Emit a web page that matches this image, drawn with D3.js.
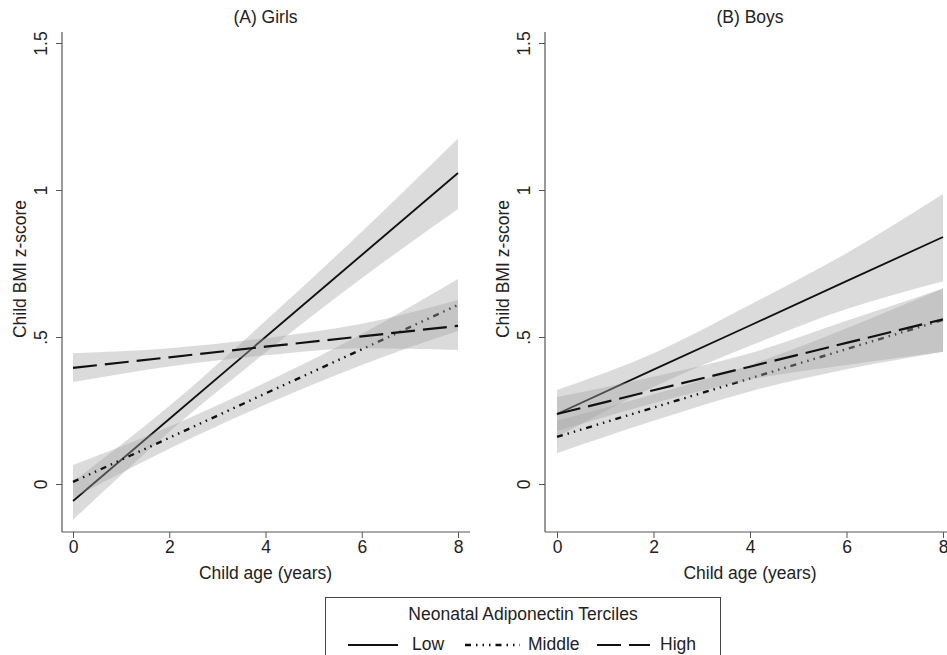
<!DOCTYPE html>
<html>
<head>
<meta charset="utf-8">
<script src="https://cdn.jsdelivr.net/npm/d3@7"></script>
<style>
  body { margin: 0; background: #fff; }
  svg text { font-family: "Liberation Sans", Arial, sans-serif; fill: #222; }
</style>
</head>
<body>
<script>
// ages at which the fitted lines and 95% CI bands are read
var ages = [0, 2, 4, 6, 8];
var seriesNames = ["Low", "Middle", "High"];
var yTicks = [0, 0.5, 1, 1.5];
var yTickLabels = ["0", ".5", "1", "1.5"];
var xTicks = [0, 2, 4, 6, 8];

// (A) Girls
var girlsLowFit   = [-0.058, 0.221, 0.500, 0.779, 1.058];
var girlsLowLo    = [-0.122, 0.178, 0.447, 0.700, 0.935];
var girlsLowHi    = [ 0.008, 0.265, 0.555, 0.858, 1.175];
var girlsMidFit   = [ 0.007, 0.157, 0.308, 0.458, 0.609];
var girlsMidLo    = [-0.048, 0.120, 0.270, 0.405, 0.520];
var girlsMidHi    = [ 0.065, 0.195, 0.345, 0.510, 0.697];
var girlsHighFit  = [ 0.395, 0.431, 0.467, 0.502, 0.538];
var girlsHighLo   = [ 0.347, 0.400, 0.438, 0.462, 0.456];
var girlsHighHi   = [ 0.445, 0.462, 0.496, 0.545, 0.626];

// (B) Boys
var boysLowFit    = [ 0.238, 0.389, 0.539, 0.690, 0.840];
var boysLowLo     = [ 0.160, 0.330, 0.470, 0.595, 0.690];
var boysLowHi     = [ 0.320, 0.445, 0.610, 0.785, 0.986];
var boysMidFit    = [ 0.160, 0.260, 0.359, 0.459, 0.558];
var boysMidLo     = [ 0.105, 0.215, 0.315, 0.390, 0.450];
var boysMidHi     = [ 0.215, 0.305, 0.405, 0.530, 0.665];
var boysHighFit   = [ 0.238, 0.319, 0.399, 0.480, 0.560];
var boysHighLo    = [ 0.180, 0.275, 0.355, 0.405, 0.450];
var boysHighHi    = [ 0.296, 0.365, 0.445, 0.555, 0.665];

var width = 947, height = 655;
var fontsize = "17.5px";

var dashes = { Low: null, Middle: "6,5,1.5,5,1.5,5,1.5,5", High: "24,8" };
var widths = { Low: 1.8, Middle: 2.4, High: 2.2 };

function build(fit, lo, hi) {
  return ages.map(function(a, i) { return { age: a, fit: fit[i], lo: lo[i], hi: hi[i] }; });
}

var panels = [
  { title: "(A) Girls", axisX: 62, axisEnd: 470, left: 73, right: 458,
    series: [build(girlsLowFit, girlsLowLo, girlsLowHi),
             build(girlsMidFit, girlsMidLo, girlsMidHi),
             build(girlsHighFit, girlsHighLo, girlsHighHi)] },
  { title: "(B) Boys", axisX: 545, axisEnd: 947, left: 557, right: 943,
    series: [build(boysLowFit, boysLowLo, boysLowHi),
             build(boysMidFit, boysMidLo, boysMidHi),
             build(boysHighFit, boysHighLo, boysHighHi)] }
];

var svg = d3.select("body").append("svg")
  .attr("width", width).attr("height", height);

var y = d3.scaleLinear().domain([0, 1.5]).range([484, 43]);
var axisTop = 32, axisBottom = 532;

panels.forEach(function(p) {
  var x = d3.scaleLinear().domain([0, 8]).range([p.left, p.right]);
  var g = svg.append("g");

  // bands and lines, Stata plot order
  p.series.forEach(function(data, k) {
    var name = seriesNames[k];
    var area = d3.area().curve(d3.curveMonotoneX)
      .x(function(d) { return x(d.age); })
      .y0(function(d) { return y(d.lo); })
      .y1(function(d) { return y(d.hi); });
    g.append("path").datum(data)
      .attr("d", area)
      .attr("fill", "#a6a6a6")
      .attr("fill-opacity", 0.4);

    var line = d3.line()
      .x(function(d) { return x(d.age); })
      .y(function(d) { return y(d.fit); });
    g.append("path").datum(data)
      .attr("d", line)
      .attr("fill", "none")
      .attr("stroke", "#111")
      .attr("stroke-width", widths[name])
      .attr("stroke-dasharray", dashes[name]);
  });

  // y axis
  var yAxis = d3.axisLeft(y).tickValues(yTicks).tickSize(6).tickSizeOuter(0)
    .tickFormat(function(d, i) { return yTickLabels[i]; });
  var ya = g.append("g").attr("transform", "translate(" + p.axisX + ",0)").call(yAxis);
  ya.select(".domain").remove();
  ya.selectAll("line").attr("stroke", "#555");
  ya.selectAll("text")
    .attr("x", 0).attr("y", 0).attr("dy", 0)
    .attr("transform", "translate(-15,0) rotate(-90)")
    .attr("text-anchor", "middle")
    .style("font-size", fontsize)
    .style("font-family", "Liberation Sans, Arial, sans-serif")
    .attr("fill", "#222");
  g.append("line")
    .attr("x1", p.axisX).attr("x2", p.axisX)
    .attr("y1", axisTop).attr("y2", axisBottom)
    .attr("stroke", "#555").attr("stroke-width", 1.2);

  // x axis
  var xAxis = d3.axisBottom(x).tickValues(xTicks).tickSize(6).tickSizeOuter(0).tickPadding(3);
  var xa = g.append("g").attr("transform", "translate(0," + axisBottom + ")").call(xAxis);
  xa.select(".domain").remove();
  xa.selectAll("line").attr("stroke", "#555");
  xa.selectAll("text")
    .style("font-size", fontsize)
    .style("font-family", "Liberation Sans, Arial, sans-serif")
    .attr("fill", "#222");
  g.append("line")
    .attr("x1", p.axisX).attr("x2", p.axisEnd)
    .attr("y1", axisBottom).attr("y2", axisBottom)
    .attr("stroke", "#555").attr("stroke-width", 1.2);

  // titles
  g.append("text")
    .attr("x", x(4)).attr("y", 23)
    .attr("text-anchor", "middle")
    .style("font-size", fontsize)
    .text(p.title);
  g.append("text")
    .attr("x", x(4)).attr("y", 579)
    .attr("text-anchor", "middle")
    .style("font-size", fontsize)
    .text("Child age (years)");
  g.append("text")
    .attr("transform", "translate(" + (p.axisX - 36) + ",269) rotate(-90)")
    .attr("text-anchor", "middle")
    .style("font-size", fontsize)
    .text("Child BMI z-score");
});

// legend
var legend = svg.append("g");
legend.append("rect")
  .attr("x", 325.5).attr("y", 597.5)
  .attr("width", 395).attr("height", 80)
  .attr("fill", "#fff").attr("stroke", "#444").attr("stroke-width", 1);
legend.append("text")
  .attr("x", 523).attr("y", 620)
  .attr("text-anchor", "middle")
  .style("font-size", fontsize)
  .text("Neonatal Adiponectin Terciles");

var legendItems = [
  { name: "Low", x1: 348, x2: 398, tx: 412 },
  { name: "Middle", x1: 465, x2: 520, tx: 528 },
  { name: "High", x1: 597, x2: 650, tx: 660 }
];
legendItems.forEach(function(it) {
  legend.append("line")
    .attr("x1", it.x1).attr("x2", it.x2)
    .attr("y1", 645).attr("y2", 645)
    .attr("stroke", "#111")
    .attr("stroke-width", widths[it.name])
    .attr("stroke-dasharray", dashes[it.name]);
  legend.append("text")
    .attr("x", it.tx).attr("y", 650)
    .style("font-size", fontsize)
    .text(it.name);
});
</script>
</body>
</html>
